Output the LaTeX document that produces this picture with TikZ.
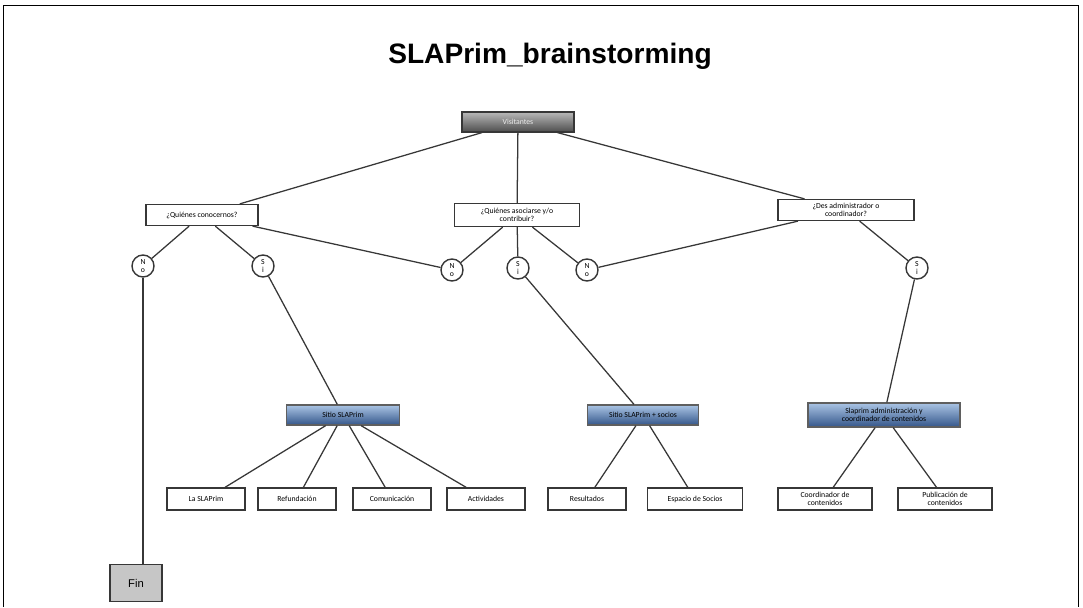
\documentclass[tikz,border=0pt]{standalone}
\usepackage{fontspec}
\setmainfont{Carlito}
\newfontfamily\titlefont{Liberation Sans}
\usetikzlibrary{positioning}

\definecolor{boxline}{RGB}{55,55,55}
\definecolor{bluetop}{RGB}{170,196,228}
\definecolor{bluebot}{RGB}{52,86,138}

\begin{document}
\begin{tikzpicture}[x=0.025cm,y=-0.025cm,line width=0.9pt]
       \tikzstyle{every node}=[font=\fontsize{5.5}{6}\selectfont]
       \tikzstyle{qbox}=[draw=boxline,fill=white,align=center,inner sep=1pt]
       \tikzstyle{leaf}=[qbox,minimum width=1.95cm,minimum height=0.55cm]
       \tikzstyle{site}=[draw=boxline!80,top color=bluetop,bottom color=bluebot,align=center,inner sep=1pt,minimum height=0.5cm]
       \tikzstyle{answer}=[circle,draw=boxline,line width=1pt,fill=white,minimum size=0.55cm,inner sep=0pt,align=center,font=\fontsize{5.5}{6}\selectfont]

       \useasboundingbox (0,0) rectangle (1083,607);
       \draw[line width=0.6pt] (3,607) -- (3,5) -- (1078,5) -- (1078,607);

       \node[font=\titlefont\bfseries\fontsize{20}{22}\selectfont] (title) at (550,56) {SLAPrim\_brainstorming};

       \node[draw=boxline,top color=gray!55,bottom color=black!70,text=white!85!gray,minimum width=2.8cm,minimum height=0.5cm] (V) at (518,122) {Visitantes};

       \node[qbox,minimum width=2.8cm,minimum height=0.525cm] (Q1) at (202,215) {¿Quiénes conocernos?};
       \node[qbox,minimum width=3.125cm,minimum height=0.575cm] (Q2) at (517,215) {¿Quiénes asociarse y/o\\contribuir?};
       \node[qbox,minimum width=3.4cm,minimum height=0.525cm] (Q3) at (846,210) {¿Des administrador o\\coordinador?};

       \node[answer] (N1) at (143,266) {N\\o};
       \node[answer] (S1) at (263,266) {S\\i};
       \node[answer] (N2) at (452,270) {N\\o};
       \node[answer] (S2) at (518,268) {S\\i};
       \node[answer] (N3) at (587,270) {N\\o};
       \node[answer] (S3) at (917,268) {S\\i};

       \node[draw=boxline,fill=gray!45,minimum width=1.3cm,minimum height=0.925cm,font=\titlefont\fontsize{8}{9}\selectfont] (fin) at (136,583) {Fin};

       \node[site,minimum width=2.825cm] (A) at (343,415) {Sitio SLAPrim};
       \node[site,minimum width=2.775cm] (B) at (643,415) {Sitio SLAPrim + socios};
       \node[site,minimum width=3.8cm,minimum height=0.6cm] (C) at (884,415) {Slaprim administración y\\coordinador de contenidos};

       \node[leaf] (A1) at (206,499) {La SLAPrim};
       \node[leaf] (A2) at (297,499) {Refundación};
       \node[leaf] (A3) at (392,499) {Comunicación};
       \node[leaf] (A4) at (486,499) {Actividades};
       \node[leaf] (B1) at (587,499) {Resultados};
       \node[leaf,minimum width=2.375cm] (B2) at (695,499) {Espacio de Socios};
       \node[leaf,minimum width=2.35cm] (C1) at (825,499) {Coordinador de\\contenidos};
       \node[leaf,minimum width=2.35cm] (C2) at (945,499) {Publicación de\\contenidos};

       \path[draw=boxline]
       (V) edge (Q1)
           edge (Q2)
           edge (Q3)
       (Q1) edge (N1)
            edge (S1)
            edge (N2)
       (Q2) edge (N2)
            edge (S2)
            edge (N3)
       (Q3) edge (N3)
            edge (S3)
       (N1) edge (N1 |- fin.north)
       (S1) edge (A)
       (S2) edge (B)
       (S3) edge (C)
       (A) edge (A1)
           edge (A2)
           edge (A3)
           edge (A4)
       (B) edge (B1)
           edge (B2)
       (C) edge (C1)
           edge (C2);
     \end{tikzpicture}
\end{document}
